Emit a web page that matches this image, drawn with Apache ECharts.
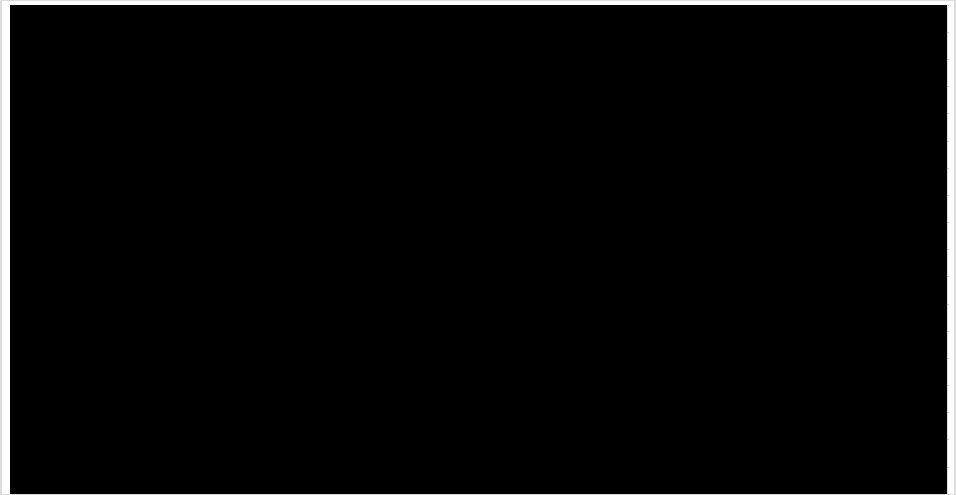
<!DOCTYPE html>
<html>
<head>
<meta charset="utf-8">
<script src="https://cdn.jsdelivr.net/npm/echarts@6/dist/echarts.min.js"></script>
<style>
  html, body { margin: 0; padding: 0; background: #ffffff; }
  #chart { width: 956px; height: 495px; box-sizing: border-box; border: 2px solid #dcdcdc; border-bottom-width: 1px; border-top-width: 1px; }
</style>
</head>
<body>
<div id="chart"></div>
<script>
// Categories along the (hidden) horizontal axis
const categories = ['A','B','C','D','E','F','G','H','I','J'];
// The filled area reaches the top of the plot everywhere in the reference
const values = [180,180,180,180,180,180,180,180,180,180];
// Right-hand value axis: 0..180 in steps of 10 (18 bands)
const axisMin = 0;
const axisMax = 180;
const axisStep = 10;

const chart = echarts.init(document.getElementById('chart'), null, { renderer: 'canvas' });
chart.setOption({
  backgroundColor: '#ffffff',
  animation: false,
  grid: { left: 8, right: 7, top: 4, bottom: 0, containLabel: false },
  xAxis: {
    type: 'category', data: categories, boundaryGap: false, show: false
  },
  yAxis: {
    type: 'value', min: axisMin, max: axisMax, interval: axisStep, position: 'right',
    axisLine: { show: true, lineStyle: { color: '#e0e0e0', width: 1 } },
    axisTick: { show: true, length: 2, lineStyle: { color: '#cfcfcf' } },
    axisLabel: { show: false },
    splitLine: { show: false },
    z: 5
  },
  series: [{
    type: 'line',
    data: values,
    symbol: 'none',
    lineStyle: { color: '#000000', width: 0 },
    areaStyle: { color: '#000000', opacity: 1 },
    z: 1
  }]
});
</script>
</body>
</html>
